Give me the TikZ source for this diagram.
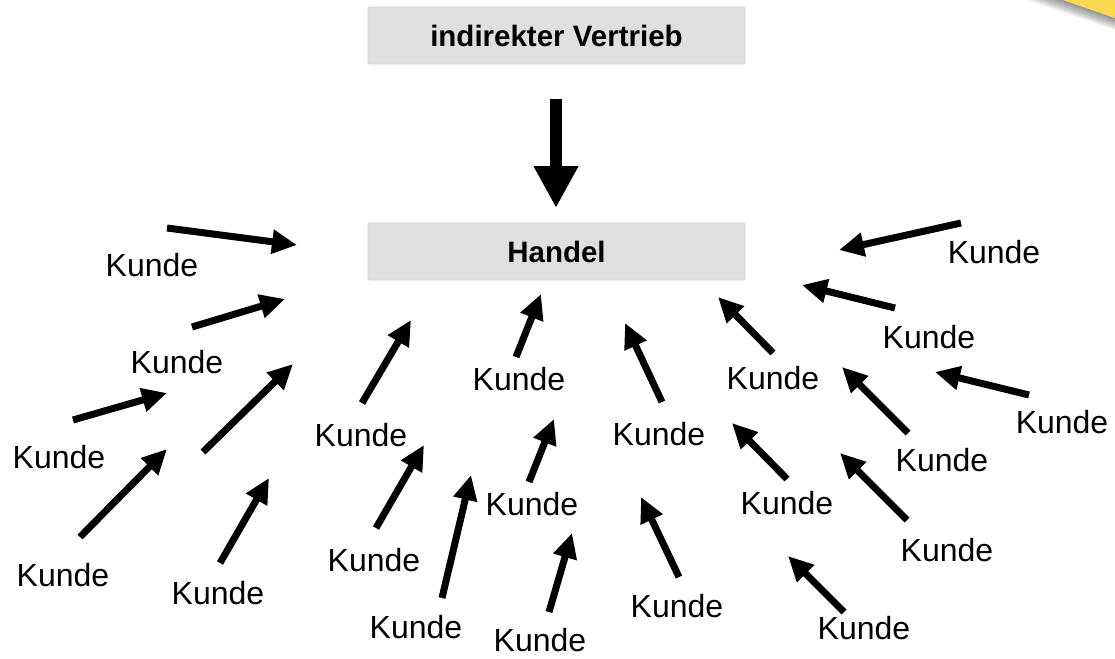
\documentclass[tikz,border=0pt]{standalone}
\usepackage{fontspec}
\setmainfont{Liberation Sans}
\usetikzlibrary{arrows.meta}

\definecolor{boxgray}{HTML}{DEDFE1}
\definecolor{boxline}{HTML}{D2D3D5}
\definecolor{sticker}{HTML}{F8D84C}

\tikzset{
  stufe/.style={draw=boxline, fill=boxgray, rounded corners=2pt, line width=0.8pt,
    minimum width=377pt, minimum height=57pt, inner sep=0pt,
    font=\fontsize{29.5}{34}\selectfont\bfseries},
  kunde/.style={inner sep=0pt, font=\fontsize{32}{38}\selectfont},
  pfeil/.style={line width=7pt, -{Triangle[length=25pt,width=23pt]}},
  hauptpfeil/.style={line width=12pt, -{Triangle[length=42pt,width=42pt]}}
}

\begin{document}
\begin{tikzpicture}[x=1pt,y=-1pt]
\useasboundingbox (0,0) rectangle (1115,658);

% corner of the sticker, with a soft shadow
\foreach \d in {1,...,12}
  \fill[black,opacity=0.045] (1060-3*\d,-1) -- (1116,18.5+\d) -- (1116,-1) -- cycle;
\fill[sticker] (1060,-1) -- (1116,18.5) -- (1116,-1) -- cycle;

% the two levels
\node[stufe] (vertrieb) at (556.5,35.5) {indirekter Vertrieb};
\node[stufe] (handel) at (556.5,251.5) {Handel};

\coordinate (v1) at (556,99);
\coordinate (v2) at (556,208);
\draw[hauptpfeil] (v1) -- (v2);

% customers: label / arrow start / arrow tip
\foreach \i/\lx/\ly/\sx/\sy/\tx/\ty in {
   1/152/265/167/228/297/245,
   2/177/362/192/327/285/299,
   3/59/457/73/420/167/393,
   5/63/575/80/537/167/449,
   6/218/593/220/563/269/478,
   7/361/435/362/403/411/320,
   8/374/560/376/528/424/445,
   9/416/627/442/598/471/475,
  10/519/379/516/357/541/294,
  11/532/504/529/482/554/419,
  12/540/640/549/612/572/533,
  13/659/434/662/402/625/323,
  14/677/606/679/577/641/497,
  15/773/378/773/353/718/297,
  16/787/503/787/479/732/423,
  17/864/628/844/612/788/556,
  18/994/252/961/223/839/250,
  19/929/337/895/308/802/285,
  20/1062/422/1029/395/935/372,
  21/942/460/908/433/842/367,
  22/947/550/907/520/840/453}
{
  \node[kunde] (k\i) at (\lx,\ly) {Kunde};
  \coordinate (s\i) at (\sx,\sy);
  \coordinate (t\i) at (\tx,\ty);
  \draw[pfeil] (s\i) -- (t\i);
}

% extra arrow without its own label
\coordinate (s4) at (203,452);
\coordinate (t4) at (293,364);
\draw[pfeil] (s4) -- (t4);

\end{tikzpicture}
\end{document}
